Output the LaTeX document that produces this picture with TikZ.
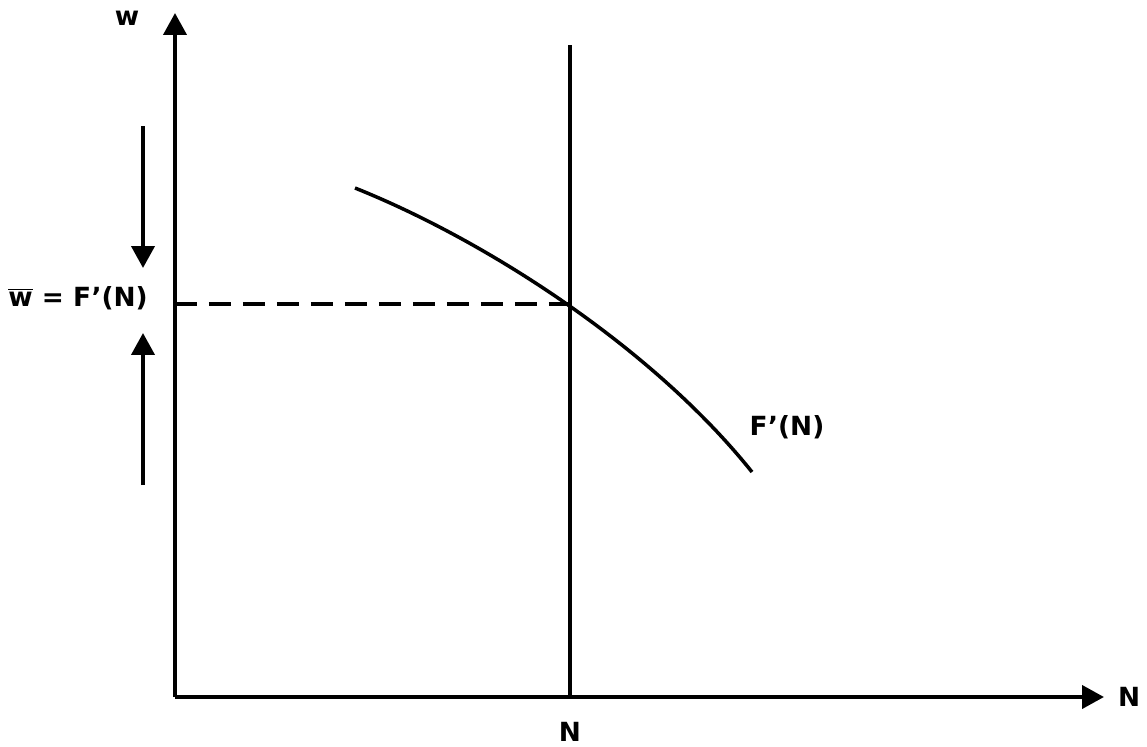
\documentclass[tikz,border=0pt]{standalone}
\usepackage{fontspec}
\setmainfont{DejaVu Sans}
\usetikzlibrary{arrows.meta}

\tikzset{
  axis/.style={line width=2.3pt},
  mover/.style={line width=2.3pt, ->},
  lbl/.style={font=\fontsize{15}{17}\selectfont\bfseries}
}

\begin{document}
\begin{tikzpicture}[>={Triangle[length=0.44cm,width=0.46cm]}, x=0.02cm, y=-0.02cm]
\useasboundingbox (0,0) rectangle (1147,747);
% ---------- axes ----------
\coordinate (O) at (175,697);
\coordinate (ytip) at (175,13);
\coordinate (xtip) at (1104,697);
\draw[axis, ->] (O) -- (ytip);
\draw[axis, ->] (O) -- (xtip);
\node[lbl] (wax) at (127,18) {w};
\node[lbl, anchor=west] (nax) at (1112,697) {N};
% ---------- fixed labour supply ----------
\coordinate (ntop) at (570,45);
\coordinate (nbot) at (570,697);
\draw[axis] (nbot) -- (ntop);
\node[lbl] (nlab) at (570,732) {N};
% ---------- marginal product curve ----------
\coordinate (eq) at (570,304);
\draw[line width=2pt] (355,188) .. controls (485,240) and (652,347) .. (752,472);
\node[lbl] (fprime) at (787,427) {F’(N)};
% equilibrium wage
\draw[line width=2.2pt, dash pattern=on 0.44cm off 0.24cm] (O |- eq) -- (eq);
\node[lbl] (wbar) at (78,298) {$\overline{\hbox{w}}$ = F’(N)};
% ---------- adjustment arrows ----------
\coordinate (dtop) at (143,126);
\coordinate (dtip) at (143,268);
\coordinate (ubot) at (143,485);
\coordinate (utip) at (143,333);
\draw[mover] (dtop) -- (dtip);
\draw[mover] (ubot) -- (utip);
\end{tikzpicture}
\end{document}
